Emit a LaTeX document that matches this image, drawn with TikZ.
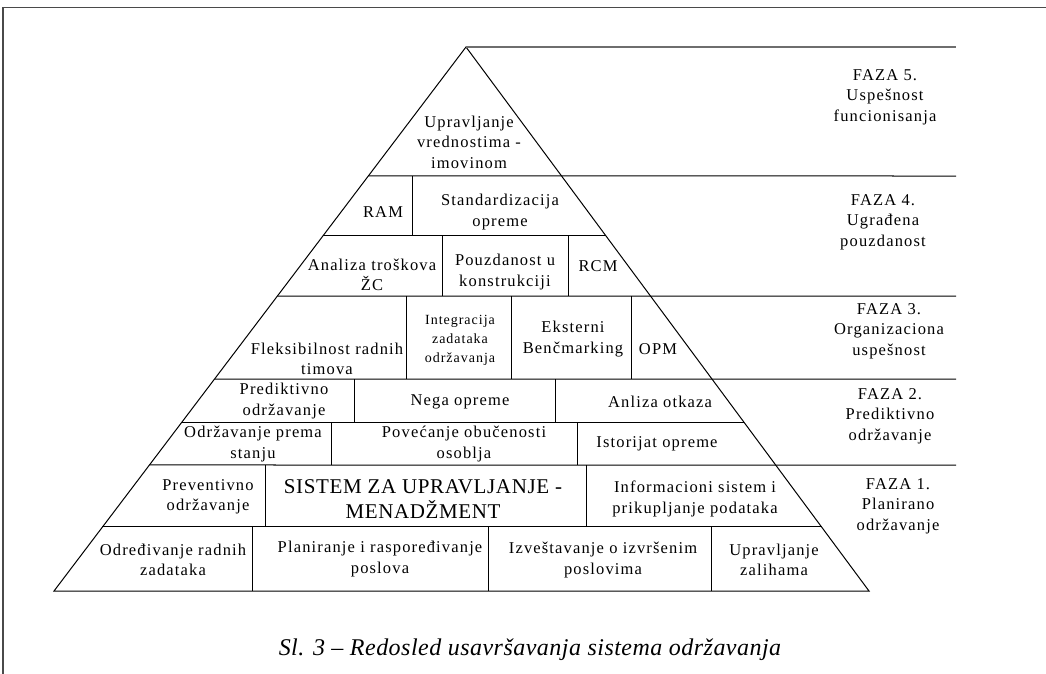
\documentclass[tikz,border=0pt]{standalone}
\usepackage{fontspec}
\setmainfont{Liberation Serif}[LetterSpace=7]
\newfontfamily\bigfont{Liberation Serif}[LetterSpace=3]
\newfontfamily\capfont{Liberation Serif}[LetterSpace=2]
\usetikzlibrary{calc}
\definecolor{framegray}{HTML}{4A4A4A}
\definecolor{topgray}{HTML}{6E6E6E}
\tikzset{
  ln/.style={line width=1pt, draw=black},
  frame/.style={line width=1.3pt, draw=framegray},
  txt/.style={align=center, inner sep=0pt, font=\fontsize{16.5}{20.5}\selectfont},
  smalltxt/.style={align=center, inner sep=0pt, font=\fontsize{14}{19}\selectfont},
  bigtxt/.style={align=center, inner sep=0pt, font=\bigfont\fontsize{21}{25}\selectfont},
  captxt/.style={inner sep=0pt, font=\capfont\itshape\fontsize{24}{28}\selectfont},
}
\begin{document}
\begin{tikzpicture}[x=1pt,y=-1pt]
\useasboundingbox (0,0) rectangle (1046,674);
% frame
\draw[frame] (3,674) -- (3,7.5) -- (1046,7.5);
% pyramid corners
\coordinate (A) at (466,47);
\coordinate (L) at (54,591);
\coordinate (R) at (869,591);
\coordinate (E) at (956,47);
\draw[ln] (L) -- (A) -- (R) -- cycle;
\draw[line width=1.2pt, draw=topgray] (A) -- (E);
% phase lines (from left slant to right end)
\foreach \yy in {176,296,379,465}{
  \draw[ln] ($(A)!{(\yy-47)/544}!(L)$) -- (956,\yy);
}
% inner lines
\foreach \yy in {236,422,527}{
  \draw[ln] ($(A)!{(\yy-47)/544}!(L)$) -- ($(A)!{(\yy-47)/544}!(R)$);
}
% vertical dividers
\foreach \xx/\ya/\yb in {412/176/236, 442/236/296, 568/236/296,
  406.7/296/379, 511/296/379, 631/296/379,
  354.6/379/422, 555.2/379/422,
  331.7/422/465, 577.8/422/465,
  265.7/465/527, 586/465/527,
  252.7/527/591, 488.3/527/591, 711.7/527/591}{
  \draw[ln] (\xx,\ya) -- (\xx,\yb);
}
% texts
\node[txt] (n5) at (469,142) {Upravljanje\\vrednostima -\\imovinom};
\node[txt] (ram) at (383,212) {RAM};
\node[txt] (std) at (500,212) {Standardizacija\\opreme};
\node[txt] (lcc) at (372,275) {Analiza troškova\\ŽC};
\node[txt] (pouz) at (505,272) {Pouzdanost u\\konstrukciji};
\node[txt] (rcm) at (598,266) {RCM};
\node[txt] (flex) at (327,359) {Fleksibilnost radnih\\timova};
\node[smalltxt] (integ) at (460,340) {Integracija\\zadataka\\održavanja};
\node[txt] (eks) at (573,339) {Eksterni\\Benčmarking};
\node[txt] (opm) at (658,349) {OPM};
\node[txt] (pred) at (284,401) {Prediktivno\\održavanje};
\node[txt] (nega) at (460,402) {Nega opreme};
\node[txt] (anl) at (660,402) {Anliza otkaza};
\node[txt] (ods) at (253,444) {Održavanje prema\\stanju};
\node[txt] (pov) at (464,444) {Povećanje obučenosti\\osoblja};
\node[txt] (ist) at (657,444) {Istorijat opreme};
\node[txt] (prev) at (208,497) {Preventivno\\održavanje};
\node[bigtxt] (sis) at (423,499) {SISTEM ZA UPRAVLJANJE -\\MENADŽMENT};
\node[txt] (info) at (695,499) {Informacioni sistem i\\prikupljanje podataka};
\node[txt] (odr) at (173,560) {Određivanje radnih\\zadataka};
\node[txt] (plan) at (380,559) {Planiranje i raspoređivanje\\poslova};
\node[txt] (izv) at (603,560) {Izveštavanje o izvršenim\\poslovima};
\node[txt] (upr) at (774,560) {Upravljanje\\zalihama};
% phase labels
\node[txt] (f5) at (885,97) {FAZA 5.\\Uspešnost\\funcionisanja};
\node[txt] (f4) at (883,222) {FAZA 4.\\Ugrađena\\pouzdanost};
\node[txt] (f3) at (889,331) {FAZA 3.\\Organizaciona\\uspešnost};
\node[txt] (f2) at (890,416) {FAZA 2.\\Prediktivno\\održavanje};
\node[txt] (f1) at (898,506) {FAZA 1.\\Planirano\\održavanje};
% caption
\node[captxt, anchor=base] (cap) at (530,655) {Sl. 3 – Redosled usavršavanja sistema održavanja};
\end{tikzpicture}
\end{document}
